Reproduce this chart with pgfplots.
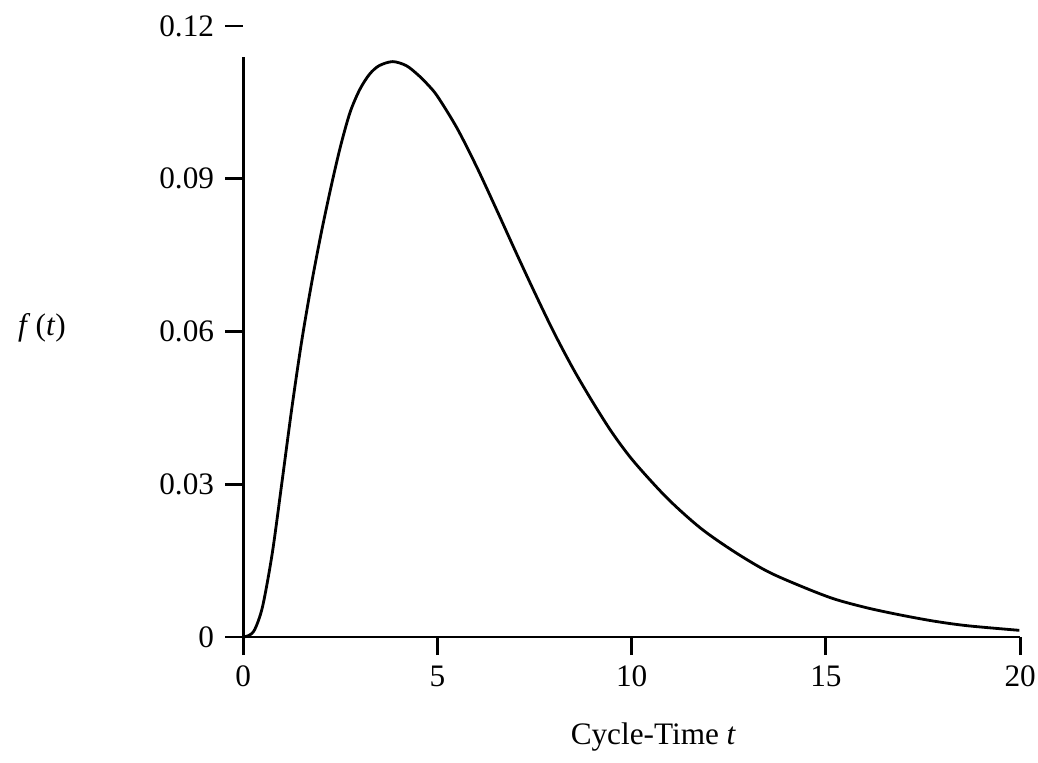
\documentclass[border=0pt]{standalone}
\usepackage{pgfplots}
\pgfplotsset{compat=1.18}
\usepackage{fontspec}
\setmainfont{Liberation Serif}

\begin{document}
\begin{tikzpicture}
    \begin{axis}[
        % Plot dimensions
        scale only axis,
        width  = 248.6pt,
        height = 195.5pt,
        % Axes
        xmin = 0, xmax = 20,
        ymin = 0, ymax = 0.12,
        enlargelimits = false,
        clip          = false,
        axis lines    = left,
        axis line style   = {-, line width = 0.9pt},
        y axis line style = {draw = none},
        % Ticks
        xtick       = {0,5,10,15,20},
        ytick       = {0,0.03,0.06,0.09,0.12},
        yticklabels = {0,0.03,0.06,0.09,0.12},
        scaled y ticks   = false,
        tick align       = outside,
        major tick length = 5.8pt,
        tick style       = {line width = 0.9pt, black},
        /pgf/number format/assume math mode = true,
        % Labels
        xlabel       = {Cycle-Time \textit{t}},
        xlabel style = {at = {(axis description cs:0.528,-0.163)}, anchor = center},
        ylabel       = {\textit{f}\,(\textit{t})},
        ylabel style = {rotate = -90, at = {(axis description cs:-0.259,0.506)}, anchor = center},
    ]

        % density curve
        \addplot[black, line width = 0.9pt, smooth] coordinates {
            (0.00, 0.0000) (0.15, 0.0003) (0.30, 0.0015) (0.50, 0.0060)
            (0.75, 0.0165) (1.00, 0.0305) (1.25, 0.0448) (1.50, 0.0578)
            (1.75, 0.0690) (2.00, 0.0790) (2.25, 0.0880) (2.50, 0.0962)
            (2.75, 0.1030) (3.00, 0.1075) (3.25, 0.1105) (3.50, 0.1122)
            (3.85, 0.1130) (4.20, 0.1122) (4.50, 0.1104) (4.75, 0.1085)
            (5.00, 0.1062) (5.50, 0.1000) (6.00, 0.0925) (6.50, 0.0843)
            (7.00, 0.0759) (7.50, 0.0677) (8.00, 0.0598) (8.50, 0.0526)
            (9.00, 0.0461) (9.50, 0.0401) (10.05, 0.0345) (10.91, 0.0273)
            (11.77, 0.0214) (12.63, 0.0168) (13.49, 0.0129) (14.35, 0.0100)
            (15.20, 0.0075) (16.07, 0.0057) (16.93, 0.0043) (17.79, 0.0031)
            (18.65, 0.0022) (19.98, 0.0013)
        };

        % y axis line stops below the top tick
        \draw[line width = 0.9pt] (axis cs:0,0) -- (axis cs:0,0.114);

        % page extent
        \coordinate (bl) at (axis cs:-6.26,-0.02475);
        \coordinate (tr) at (axis cs:20.46,0.1251);
    \end{axis}
    \pgfresetboundingbox
    \path[use as bounding box] (bl) rectangle (tr);
\end{tikzpicture}
\end{document}
